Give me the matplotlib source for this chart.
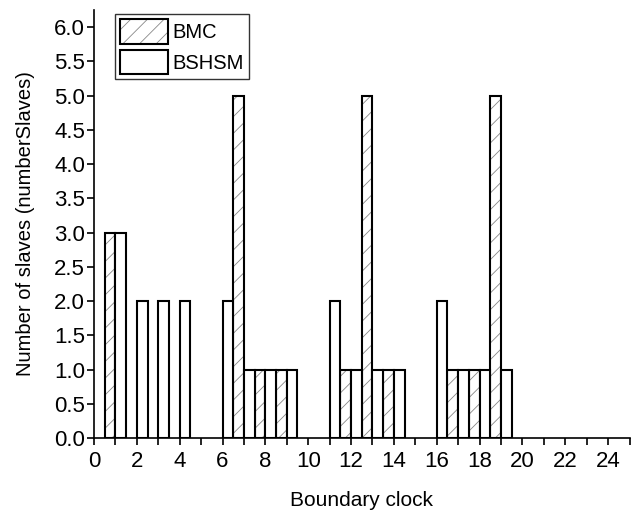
import numpy as np
import matplotlib
matplotlib.use("Agg")
import matplotlib.pyplot as plt
import matplotlib.patches as mpatches
from matplotlib.ticker import MultipleLocator, FormatStrFormatter

plt.rcParams['font.family'] = ['Liberation Sans', 'DejaVu Sans']
plt.rcParams['hatch.linewidth'] = 0.6

clocks = np.arange(1, 20)
bmc = [3, 0, 0, 0, 0, 0, 5, 1, 1, 0, 0, 1, 5, 1, 0, 0, 1, 1, 5]
bshsm = [3, 2, 2, 2, 0, 2, 1, 1, 1, 0, 2, 1, 1, 1, 0, 2, 1, 1, 1]

fig = plt.figure(figsize=(6.33, 5.21), dpi=100)
ax = fig.add_axes([0.1485, 0.159, 0.846, 0.822])

bmc = np.array(bmc)
bshsm = np.array(bshsm)
m1 = bmc > 0
m2 = bshsm > 0
w = 0.5

# hatched series: grey hatch first, then black outline on top
ax.bar(clocks[m1], bmc[m1], width=-w, align='edge', color='white',
       edgecolor='#888888', hatch='//', linewidth=0)
ax.bar(clocks[m1], bmc[m1], width=-w, align='edge', fill=False,
       edgecolor='black', linewidth=1.5)
ax.bar(clocks[m2], bshsm[m2], width=w, align='edge', color='white',
       edgecolor='black', linewidth=1.5)

ax.set_xlim(0, 25)
ax.set_ylim(0, 6.25)
ax.xaxis.set_major_locator(MultipleLocator(2))
ax.xaxis.set_minor_locator(MultipleLocator(1))
ax.yaxis.set_major_locator(MultipleLocator(0.5))
ax.yaxis.set_major_formatter(FormatStrFormatter('%.1f'))
ax.tick_params(axis='both', which='major', direction='out', length=5,
               width=1.2, labelsize=16)
ax.tick_params(axis='x', which='major', pad=4)
ax.tick_params(axis='y', which='major', pad=1.5)
ax.tick_params(axis='x', which='minor', direction='out', length=5, width=1.2)
for s in ['top', 'right']:
    ax.spines[s].set_visible(False)
for s in ['left', 'bottom']:
    ax.spines[s].set_linewidth(1.2)

ax.set_xlabel('Boundary clock', fontsize=15, labelpad=14)
ax.set_ylabel('Number of slaves (numberSlaves)', fontsize=14.5, labelpad=14)

h1a = mpatches.Patch(facecolor='white', edgecolor='#888888', hatch='//', linewidth=0)
h1b = mpatches.Patch(fill=False, edgecolor='black', linewidth=1.5)
h2 = mpatches.Patch(facecolor='white', edgecolor='black', linewidth=1.5)
leg = ax.legend([(h1a, h1b), h2], ['BMC', 'BSHSM'], loc='upper left',
                bbox_to_anchor=(0.035, 0.995), fontsize=14.5, frameon=True,
                fancybox=False, edgecolor='black', handlelength=2.4,
                handleheight=1.5, handletextpad=0.2, labelspacing=0.3,
                borderpad=0.25, borderaxespad=0.1)
leg.get_frame().set_linewidth(1.0)

fig.savefig('out.png', dpi=100)
